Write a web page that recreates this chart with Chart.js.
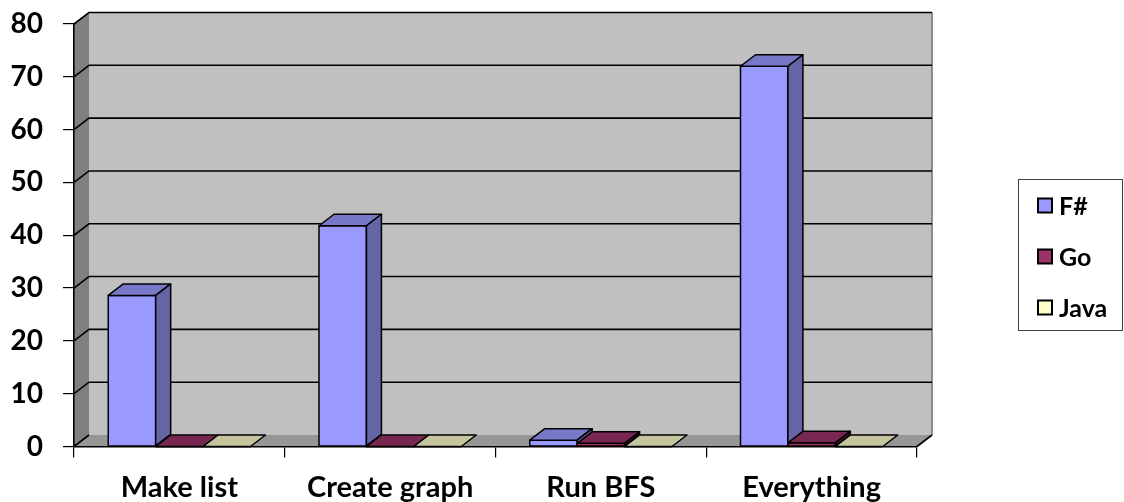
<!DOCTYPE html>
<html>
<head>
<meta charset="utf-8">
<title>Run times by task</title>
<script src="https://cdn.jsdelivr.net/npm/chart.js@4/dist/chart.umd.min.js"></script>
<style>
  html, body { margin: 0; padding: 0; background: #ffffff; }
  canvas { display: block; }
</style>
</head>
<body>
<canvas id="chart" width="1124" height="502"></canvas>
<script>
// Task categories and measured times per language
const categories = ['Make list', 'Create graph', 'Run BFS', 'Everything'];
const seriesNames = ['F#', 'Go', 'Java'];
const fsharpValues = [28.6, 41.8, 1.2, 72];
const goValues = [0, 0, 0.6, 0.7];
const javaValues = [0, 0, 0, 0];
const yMin = 0;
const yMax = 80;
const yStep = 10;

// Face colours per series: front, top, right side
const frontColors = ['#9999FF', '#993366', '#FFFFCC'];
const topColors = ['#7878C8', '#782850', '#C6C69E'];
const sideColors = ['#6464A6', '#5A1E3E', '#A6A686'];

const FONT = 'Lato, "Open Sans", sans-serif';
const DEPTH_X = 15;     // oblique depth offset of the 3-D box
const DEPTH_Y = -11.5;

function poly(ctx, pts, fill, stroke, lw) {
  ctx.beginPath();
  ctx.moveTo(pts[0][0], pts[0][1]);
  for (let i = 1; i < pts.length; i++) ctx.lineTo(pts[i][0], pts[i][1]);
  ctx.closePath();
  if (fill) { ctx.fillStyle = fill; ctx.fill(); }
  if (stroke) { ctx.strokeStyle = stroke; ctx.lineWidth = lw || 1; ctx.lineJoin = 'round'; ctx.stroke(); }
}

// Walls, floor and gridlines of the 3-D plot box
const boxPlugin = {
  id: 'box3d',
  beforeDraw(chart) {
    const ctx = chart.ctx;
    const ys = chart.scales.y;
    const { left, right, top, bottom } = chart.chartArea;
    const dx = DEPTH_X, dy = DEPTH_Y;
    ctx.save();
    // back wall
    ctx.fillStyle = '#C0C0C0';
    ctx.fillRect(left + dx, top + dy, right - left, bottom - top);
    // left side wall
    poly(ctx, [[left, top], [left + dx, top + dy], [left + dx, bottom + dy], [left, bottom]], '#808080');
    // floor
    poly(ctx, [[left, bottom], [right, bottom], [right + dx, bottom + dy], [left + dx, bottom + dy]], '#969696');
    // right edge of back wall
    ctx.strokeStyle = '#8C8C8C';
    ctx.lineWidth = 2;
    ctx.beginPath();
    ctx.moveTo(right + dx, top + dy);
    ctx.lineTo(right + dx, bottom + dy);
    ctx.stroke();
    // gridlines across side wall and back wall
    ctx.strokeStyle = '#000000';
    ctx.lineWidth = 1.6;
    ys.ticks.forEach(t => {
      const y = ys.getPixelForValue(t.value);
      ctx.beginPath();
      ctx.moveTo(left, y);
      ctx.lineTo(left + dx, y + dy);
      if (t.value !== yMin) ctx.lineTo(right + dx, y + dy);
      ctx.stroke();
    });
    // front-right floor edge
    ctx.beginPath();
    ctx.moveTo(right, bottom);
    ctx.lineTo(right + dx, bottom + dy);
    ctx.stroke();
    ctx.restore();
  },
  afterDatasetsDraw(chart) {
    const ctx = chart.ctx;
    const dx = DEPTH_X, dy = DEPTH_Y;
    // collect bars and paint them left to right so nearer faces overlap correctly
    const bars = [];
    chart.data.datasets.forEach((ds, di) => {
      chart.getDatasetMeta(di).data.forEach(el => bars.push({ el, di }));
    });
    bars.sort((a, b) => a.el.x - b.el.x);
    ctx.save();
    bars.forEach(({ el, di }) => {
      const p = el.getProps(['x', 'y', 'base', 'width'], true);
      const x1 = p.x - p.width / 2, x2 = p.x + p.width / 2;
      const yt = Math.min(p.y, p.base), yb = Math.max(p.y, p.base);
      // front face
      poly(ctx, [[x1, yt], [x2, yt], [x2, yb], [x1, yb]], frontColors[di], '#000', 1.5);
      // top face
      poly(ctx, [[x1, yt], [x2, yt], [x2 + dx, yt + dy], [x1 + dx, yt + dy]], topColors[di], '#000', 1.5);
      // right side face
      if (yb - yt > 0.5) {
        poly(ctx, [[x2, yt], [x2 + dx, yt + dy], [x2 + dx, yb + dy], [x2, yb]], sideColors[di], '#000', 1.5);
      }
    });
    ctx.restore();
  },
  afterDraw(chart) {
    // legend box on the right
    const ctx = chart.ctx;
    const bx = 1018.5, by = 179.5, bw = 104, bh = 151;
    ctx.save();
    ctx.strokeStyle = '#404040';
    ctx.lineWidth = 1;
    ctx.strokeRect(bx, by, bw, bh);
    ctx.font = 'bold 25px ' + FONT;
    ctx.textBaseline = 'middle';
    ctx.textAlign = 'left';
    chart.data.datasets.forEach((ds, i) => {
      const cy = 205.5 + i * 51;
      ctx.fillStyle = frontColors[i];
      ctx.fillRect(1038, cy - 7, 14, 14);
      ctx.strokeStyle = '#000';
      ctx.lineWidth = 2;
      ctx.strokeRect(1038, cy - 7, 14, 14);
      ctx.fillStyle = '#000';
      ctx.fillText(ds.label, 1059, cy + 1);
    });
    ctx.restore();
  }
};

const seriesValues = [fsharpValues, goValues, javaValues];

// keep tick-label overhang from shifting the plot box
function noOverhang(scale) {
  scale.paddingTop = 0;
  scale.paddingBottom = 0;
  scale.paddingLeft = 0;
  scale.paddingRight = 0;
}

new Chart(document.getElementById('chart'), {
  type: 'bar',
  data: {
    labels: categories,
    datasets: seriesNames.map((name, i) => ({
      label: name,
      data: seriesValues[i],
      backgroundColor: frontColors[i],
      borderColor: '#000000',
      borderWidth: 0,
      categoryPercentage: 0.675,
      barPercentage: 1.0
    }))
  },
  options: {
    responsive: false,
    devicePixelRatio: 1,
    animation: false,
    layout: { autoPadding: false, padding: { top: 24, right: 207, left: 0, bottom: 0 } },
    plugins: {
      legend: { display: false },
      tooltip: { enabled: false }
    },
    scales: {
      x: {
        type: 'category',
        afterFit(scale) { scale.height = 55.5; noOverhang(scale); },
        grid: {
          offset: true,
          drawOnChartArea: false,
          drawTicks: true,
          tickLength: 11,
          color: '#000000',
          lineWidth: 1.2
        },
        border: { display: true, color: '#000000', width: 1.6 },
        ticks: {
          color: '#000000',
          font: { family: FONT, size: 29, weight: 'bold' },
          padding: 13,
          maxRotation: 0
        }
      },
      y: {
        min: yMin,
        max: yMax,
        afterFit(scale) { scale.width = 74; noOverhang(scale); },
        grid: {
          drawOnChartArea: false,
          drawTicks: true,
          tickLength: 11,
          color: '#000000',
          lineWidth: 1.2
        },
        border: { display: true, color: '#000000', width: 1.6 },
        ticks: {
          stepSize: yStep,
          color: '#000000',
          font: { family: FONT, size: 28, weight: 'bold' },
          padding: 20
        }
      }
    }
  },
  plugins: [boxPlugin]
});
</script>
</body>
</html>
